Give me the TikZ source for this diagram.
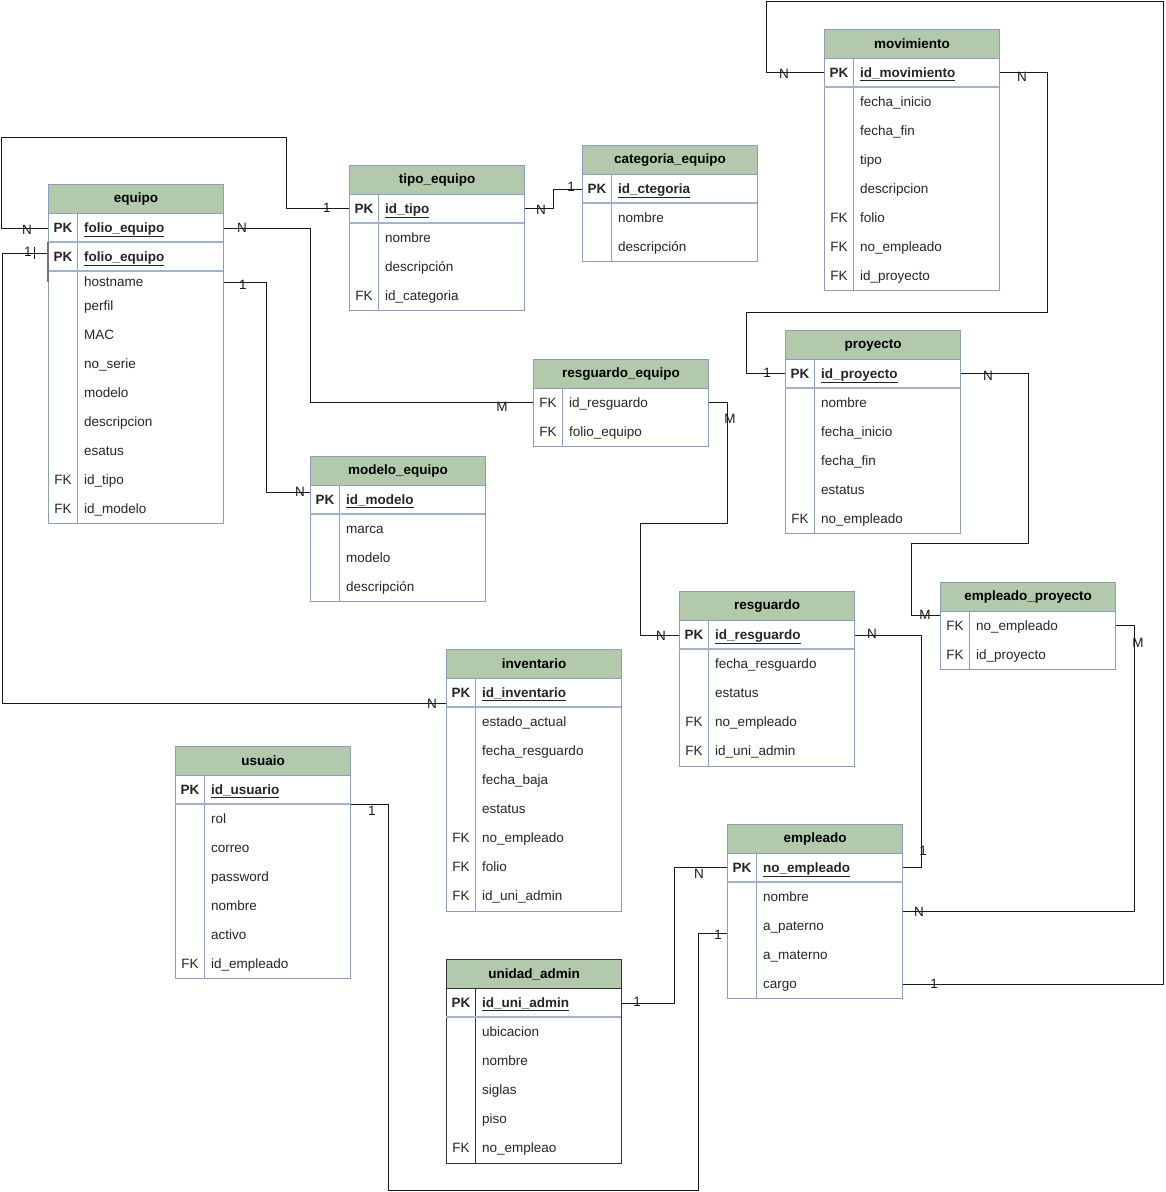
\documentclass[tikz,border=0pt]{standalone}
\usepackage{fontspec}
\setmainfont{Liberation Sans}
\definecolor{tblline}{HTML}{8C9DC0}
\definecolor{tblsepc}{HTML}{A3B1CD}
\definecolor{hdrgreen}{HTML}{B2C9AB}
\definecolor{relline}{HTML}{1A1A1A}
\definecolor{darkline}{HTML}{333333}

% table frame: #1 stroke colour, #2 name, #3 left, #4 top, #5 bottom, #6 title
\newcommand\entity[6][tblline]{%
  \node[tablebox, draw=#1, minimum height={(#5-#4)*1pt}] (#2) at (#3,#4) {};
  \node[headbox, draw=#1] (#2-title) at (#3,#4) {#6};
  \draw[draw=#1, line width=1.1pt] (#3+29.5,#4+29) -- (#3+29.5,#5);
}
% primary key row: name, table left, row centre, field
\newcommand\pkrow[4]{%
  \node[pkkey] (#1-k) at (#2+15,#3+4.8) {PK};
  \node[pkfield] (#1) at (#2+36,#3+4.8) {\underline{#4}};
}
% foreign key row
\newcommand\fkrow[4]{%
  \node[keytext] (#1-k) at (#2+15,#3+4.8) {FK};
  \node[fieldtext] (#1) at (#2+36,#3+4.8) {#4};
}
% plain attribute row
\newcommand\atrow[4]{%
  \node[fieldtext] (#1) at (#2+36,#3+4.8) {#4};
}
% horizontal rule under a key row
\newcommand\rowsep[3][tblsepc]{%
  \draw[draw=#1, line width=1.1pt] (#2,#3) -- ++(175,0);
}

\begin{document}
\begin{tikzpicture}[x=1pt,y=-1pt,
  font=\fontsize{13.5}{16}\selectfont,
  tablebox/.style={fill=white, line width=1.1pt, inner sep=0pt, anchor=north west, minimum width=175pt},
  headbox/.style={fill=hdrgreen, line width=1.1pt, inner sep=0pt, anchor=north west,
    minimum width=175pt, minimum height=29pt, font=\fontsize{13.5}{16}\selectfont\bfseries},
  keytext/.style={inner sep=0pt, anchor=base, text=black!85},
  pkkey/.style={keytext, font=\fontsize{13.5}{16}\selectfont\bfseries},
  fieldtext/.style={inner sep=0pt, anchor=base west, text=black!85},
  pkfield/.style={fieldtext, font=\fontsize{13.5}{16}\selectfont\bfseries},
  rel/.style={draw=relline, line width=1pt},
  card/.style={inner sep=0pt, text=relline},
]
\useasboundingbox[fill=white] (0,0) rectangle (1166,1192);

% ---------- equipo ----------
\entity{equipo}{48}{184}{523}{equipo}
\pkrow{eq-folio}{48}{227.5}{folio\_equipo}
\rowsep{48}{242}
\pkrow{eq-folio2}{48}{256.5}{folio\_equipo}
\rowsep{48}{271}
\atrow{eq-host}{48}{282}{hostname}
\atrow{eq-perfil}{48}{305.5}{perfil}
\atrow{eq-mac}{48}{334.5}{MAC}
\atrow{eq-serie}{48}{363.5}{no\_serie}
\atrow{eq-modelo}{48}{392.5}{modelo}
\atrow{eq-desc}{48}{421.5}{descripcion}
\atrow{eq-status}{48}{450.5}{esatus}
\fkrow{eq-tipo}{48}{479.5}{id\_tipo}
\fkrow{eq-mod}{48}{508.5}{id\_modelo}

% ---------- tipo_equipo ----------
\entity{tipo}{349}{165}{310}{tipo\_equipo}
\pkrow{te-id}{349}{208.5}{id\_tipo}
\rowsep{349}{223}
\atrow{te-nombre}{349}{237.5}{nombre}
\atrow{te-desc}{349}{266.5}{descripción}
\fkrow{te-cat}{349}{295.5}{id\_categoria}

% ---------- categoria_equipo ----------
\entity{categoria}{582}{145}{261}{categoria\_equipo}
\pkrow{ce-id}{582}{188.5}{id\_ctegoria}
\rowsep{582}{203}
\atrow{ce-nombre}{582}{217.5}{nombre}
\atrow{ce-desc}{582}{246.5}{descripción}

% ---------- movimiento ----------
\entity{movimiento}{824}{29}{290}{movimiento}
\pkrow{mv-id}{824}{72.5}{id\_movimiento}
\rowsep{824}{87}
\atrow{mv-ini}{824}{101.5}{fecha\_inicio}
\atrow{mv-fin}{824}{130.5}{fecha\_fin}
\atrow{mv-tipo}{824}{159.5}{tipo}
\atrow{mv-desc}{824}{188.5}{descripcion}
\fkrow{mv-folio}{824}{217.5}{folio}
\fkrow{mv-emp}{824}{246.5}{no\_empleado}
\fkrow{mv-proy}{824}{275.5}{id\_proyecto}

% ---------- proyecto ----------
\entity{proyecto}{785}{330}{533}{proyecto}
\pkrow{pr-id}{785}{373.5}{id\_proyecto}
\rowsep{785}{388}
\atrow{pr-nombre}{785}{402.5}{nombre}
\atrow{pr-ini}{785}{431.5}{fecha\_inicio}
\atrow{pr-fin}{785}{460.5}{fecha\_fin}
\atrow{pr-est}{785}{489.5}{estatus}
\fkrow{pr-emp}{785}{518.5}{no\_empleado}

% ---------- resguardo_equipo ----------
\entity{resgeq}{533}{359}{446}{resguardo\_equipo}
\fkrow{re-res}{533}{402.5}{id\_resguardo}
\fkrow{re-folio}{533}{431.5}{folio\_equipo}

% ---------- modelo_equipo ----------
\entity{modelo}{310}{456}{601}{modelo\_equipo}
\pkrow{me-id}{310}{499.5}{id\_modelo}
\rowsep{310}{514}
\atrow{me-marca}{310}{528.5}{marca}
\atrow{me-modelo}{310}{557.5}{modelo}
\atrow{me-desc}{310}{586.5}{descripción}

% ---------- resguardo ----------
\entity{resguardo}{679}{591}{765.5}{resguardo}
\pkrow{rg-id}{679}{634.5}{id\_resguardo}
\rowsep{679}{649}
\atrow{rg-fecha}{679}{663.5}{fecha\_resguardo}
\atrow{rg-est}{679}{692.5}{estatus}
\fkrow{rg-emp}{679}{721.5}{no\_empleado}
\fkrow{rg-uni}{679}{750.5}{id\_uni\_admin}

% ---------- empleado_proyecto ----------
\entity{empproy}{940}{582}{669}{empleado\_proyecto}
\fkrow{ep-emp}{940}{625.5}{no\_empleado}
\fkrow{ep-proy}{940}{654.5}{id\_proyecto}

% ---------- inventario ----------
\entity{inventario}{446}{649}{910.5}{inventario}
\pkrow{in-id}{446}{692.5}{id\_inventario}
\rowsep{446}{707}
\atrow{in-estado}{446}{721.5}{estado\_actual}
\atrow{in-fres}{446}{750.5}{fecha\_resguardo}
\atrow{in-fbaja}{446}{779.5}{fecha\_baja}
\atrow{in-est}{446}{808.5}{estatus}
\fkrow{in-emp}{446}{837.5}{no\_empleado}
\fkrow{in-folio}{446}{866.5}{folio}
\fkrow{in-uni}{446}{895.5}{id\_uni\_admin}

% ---------- usuaio ----------
\entity{usuaio}{175}{746}{978}{usuaio}
\pkrow{us-id}{175}{789.5}{id\_usuario}
\rowsep{175}{804}
\atrow{us-rol}{175}{818.5}{rol}
\atrow{us-correo}{175}{847.5}{correo}
\atrow{us-pass}{175}{876.5}{password}
\atrow{us-nombre}{175}{905.5}{nombre}
\atrow{us-activo}{175}{934.5}{activo}
\fkrow{us-emp}{175}{963.5}{id\_empleado}

% ---------- empleado ----------
\entity{empleado}{727}{824}{998}{empleado}
\pkrow{em-id}{727}{867.5}{no\_empleado}
\rowsep{727}{882}
\atrow{em-nombre}{727}{896.5}{nombre}
\atrow{em-pat}{727}{925.5}{a\_paterno}
\atrow{em-mat}{727}{954.5}{a\_materno}
\atrow{em-cargo}{727}{983.5}{cargo}

% ---------- unidad_admin ----------
\entity[darkline]{unidad}{446}{959}{1162.5}{unidad\_admin}
\pkrow{ua-id}{446}{1002.5}{id\_uni\_admin}
\rowsep{446}{1017}
\atrow{ua-ubic}{446}{1031.5}{ubicacion}
\atrow{ua-nombre}{446}{1060.5}{nombre}
\atrow{ua-siglas}{446}{1089.5}{siglas}
\atrow{ua-piso}{446}{1118.5}{piso}
\fkrow{ua-emp}{446}{1147.5}{no\_empleao}

% ---------- relationships ----------
% equipo -- tipo_equipo
\draw[rel] (equipo.west|-0,228) -- (1,228) -- (1,137) -- (286,137) -- (286,208.5) -- (tipo.west|-0,208.5);
\node[card] (c1a) at (27,230) {N};
\node[card] (c1b) at (327,208) {1};
% equipo -- resguardo_equipo
\draw[rel] (equipo.east|-0,228) -- (310,228) -- (310,402.5) -- (resgeq.west|-0,402.5);
\node[card] (c2a) at (242,228) {N};
\node[card] (c2b) at (502,407) {M};
% equipo -- inventario
\draw[rel] (equipo.west|-0,253) -- (2.5,253) -- (2.5,703) -- (inventario.west|-0,703);
\draw[rel] (34.5,247) -- (34.5,259);
\draw[draw=black!55, line width=1.1pt] (equipo.west|-0,242) -- (equipo.west|-0,282);
\node[card] (c3a) at (28,252) {1};
\node[card] (c3b) at (432,704) {N};
% equipo -- modelo_equipo
\draw[rel] (equipo.east|-0,282) -- (266.5,282) -- (266.5,492) -- (modelo.west|-0,492);
\node[card] (c4a) at (243,285) {1};
\node[card] (c4b) at (300,492) {N};
% tipo_equipo -- categoria_equipo
\draw[rel] (tipo.east|-0,208.5) -- (553,208.5) -- (553,189) -- (categoria.west|-0,189);
\node[card] (c5a) at (541,210) {N};
\node[card] (c5b) at (571,187) {1};
% movimiento -- empleado
\draw[rel] (movimiento.west|-0,72.5) -- (766.5,72.5) -- (766.5,1) -- (1163.5,1) -- (1163.5,984) -- (empleado.east|-0,984);
\node[card] (c6a) at (784,74) {N};
\node[card] (c6b) at (934,984) {1};
% movimiento -- proyecto
\draw[rel] (movimiento.east|-0,72.5) -- (1047,72.5) -- (1047,312) -- (746.5,312) -- (746.5,373.5) -- (proyecto.west|-0,373.5);
\node[card] (c7a) at (1022,77) {N};
\node[card] (c7b) at (767,373) {1};
% proyecto -- empleado_proyecto
\draw[rel] (proyecto.east|-0,373.5) -- (1028,373.5) -- (1028,543) -- (911.5,543) -- (911.5,615) -- (empproy.west|-0,615);
\node[card] (c8a) at (988,376) {N};
\node[card] (c8b) at (925,615) {M};
% resguardo_equipo -- resguardo
\draw[rel] (resgeq.east|-0,402.5) -- (727.5,402.5) -- (727.5,523.5) -- (640,523.5) -- (640,635) -- (resguardo.west|-0,635);
\node[card] (c9a) at (730,419) {M};
\node[card] (c9b) at (661,636) {N};
% resguardo -- empleado
\draw[rel] (resguardo.east|-0,635) -- (921,635) -- (921,867.5) -- (empleado.east|-0,867.5);
\node[card] (c10a) at (872,634) {N};
\node[card] (c10b) at (923,851) {1};
% empleado_proyecto -- empleado
\draw[rel] (empproy.east|-0,625.5) -- (1134.5,625.5) -- (1134.5,911) -- (empleado.east|-0,911);
\node[card] (c11a) at (1138,643) {M};
\node[card] (c11b) at (919,912) {N};
% unidad_admin -- empleado
\draw[rel] (unidad.east|-0,1003) -- (674,1003) -- (674,867.5) -- (empleado.west|-0,867.5);
\node[card] (c12a) at (637,1002) {1};
\node[card] (c12b) at (699,874) {N};
% usuaio -- empleado
\draw[rel] (usuaio.east|-0,804) -- (388,804) -- (388,1190.5) -- (698.5,1190.5) -- (698.5,933) -- (empleado.west|-0,933);
\node[card] (c13a) at (372,811) {1};
\node[card] (c13b) at (718,935) {1};
\end{tikzpicture}
\end{document}
